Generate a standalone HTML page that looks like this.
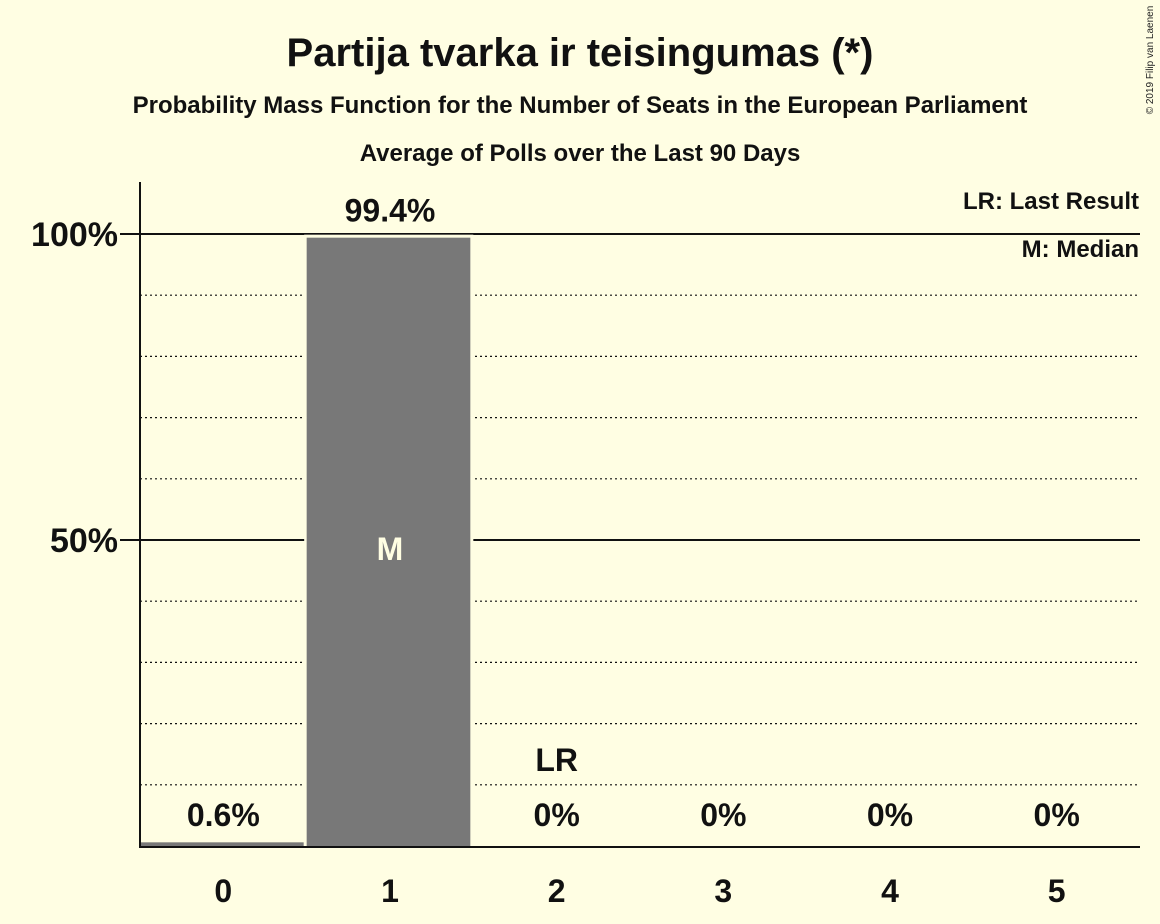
<!DOCTYPE html>
<html><head><meta charset="utf-8"><style>
html,body{margin:0;padding:0;background:#fffee3;}
svg{display:block;font-family:"Liberation Sans",sans-serif;}
</style></head><body>
<svg id="chart" width="1160" height="924" viewBox="0 0 1160 924">
<rect width="1160" height="924" fill="#fffee3"/>
<text x="580" y="66" text-anchor="middle" font-size="40" font-weight="bold" fill="#111">Partija tvarka ir teisingumas (*)</text>
<text x="580" y="113" text-anchor="middle" font-size="24" font-weight="bold" fill="#111">Probability Mass Function for the Number of Seats in the European Parliament</text>
<text x="580" y="161" text-anchor="middle" font-size="24" font-weight="bold" fill="#111">Average of Polls over the Last 90 Days</text>
<text x="1153" y="60" font-size="10" fill="#222" transform="rotate(-90 1153 60)" text-anchor="middle">© 2019 Filip van Laenen</text>
<text x="1139" y="209" text-anchor="end" font-size="24" font-weight="bold" fill="#111">LR: Last Result</text>
<text x="1139" y="257" text-anchor="end" font-size="24" font-weight="bold" fill="#111">M: Median</text>
<g id="grid"></g><g id="bars"></g><g id="labels"></g>
<line x1="140" y1="182" x2="140" y2="848" stroke="#111" stroke-width="2"/>
<line x1="139" y1="847" x2="1140" y2="847" stroke="#111" stroke-width="2"/>
</svg>
<script>
const categories=[0,1,2,3,4,5];
const values=[0.6,99.4,0,0,0,0];
const valueLabels=["0.6%","99.4%","0%","0%","0%","0%"];
const yTicks=[50,100];
const gridValues=[10,20,30,40,50,60,70,80,90,100];
const medianSeat=1;
const lastResultSeat=2;
const NS="http://www.w3.org/2000/svg";
const x0=140,x1=1140,yBase=846,y100=234;
const bw=(x1-x0)/categories.length;
const y=v=>yBase-(yBase-y100)*v/100;
const xs=i=>x0+i*bw;
function mk(t,a,p){const e=document.createElementNS(NS,t);for(const k in a)e.setAttribute(k,a[k]);p.appendChild(e);return e;}
const grid=document.getElementById('grid'),bars=document.getElementById('bars'),labels=document.getElementById('labels');
gridValues.forEach(g=>{const solid=g%50===0;
 const l=mk('line',{x1:solid?120:x0,x2:x1,y1:y(g),y2:y(g),stroke:'#111','stroke-width':solid?2:1.2,'stroke-dasharray':solid?'none':'2,3'},grid);
 
 });
yTicks.forEach(t=>{const e=mk('text',{x:118,y:y(t)+12,'text-anchor':'end','font-size':34,'font-weight':'bold',fill:'#111'},labels);e.textContent=t+'%';
 
 });
categories.forEach((c,i)=>{
 const v=values[i];
 if(v>0){
  const g=mk('rect',{x:xs(i)-2.5,y:y(v)-3,width:bw+2.5,height:yBase-y(v)+3,fill:'#fffee3'},bars);
  
  
  const r=mk('rect',{x:xs(i),y:y(v),width:bw-3,height:yBase-y(v)+1,fill:'#787878'},bars);
  
  }
 const cx=xs(i)+bw/2;
 const big=v>50;
 const vl=mk('text',{x:cx,y:big?y(v)-16:yBase-20,'text-anchor':'middle','font-size':32,'font-weight':'bold',fill:'#111'},labels);vl.textContent=valueLabels[i];
 
 
 const xl=mk('text',{x:cx,y:902,'text-anchor':'middle','font-size':32,'font-weight':'bold',fill:'#111'},labels);xl.textContent=c;
 
 
 if(c===medianSeat){const m=mk('text',{x:cx,y:y(v/2)+18,'text-anchor':'middle','font-size':32,'font-weight':'bold',fill:'#fffee3'},labels);m.textContent='M';
  
  }
 if(c===lastResultSeat){const m=mk('text',{x:cx,y:yBase-75,'text-anchor':'middle','font-size':32,'font-weight':'bold',fill:'#111'},labels);m.textContent='LR';
  
  }
});
</script>
</body></html>
